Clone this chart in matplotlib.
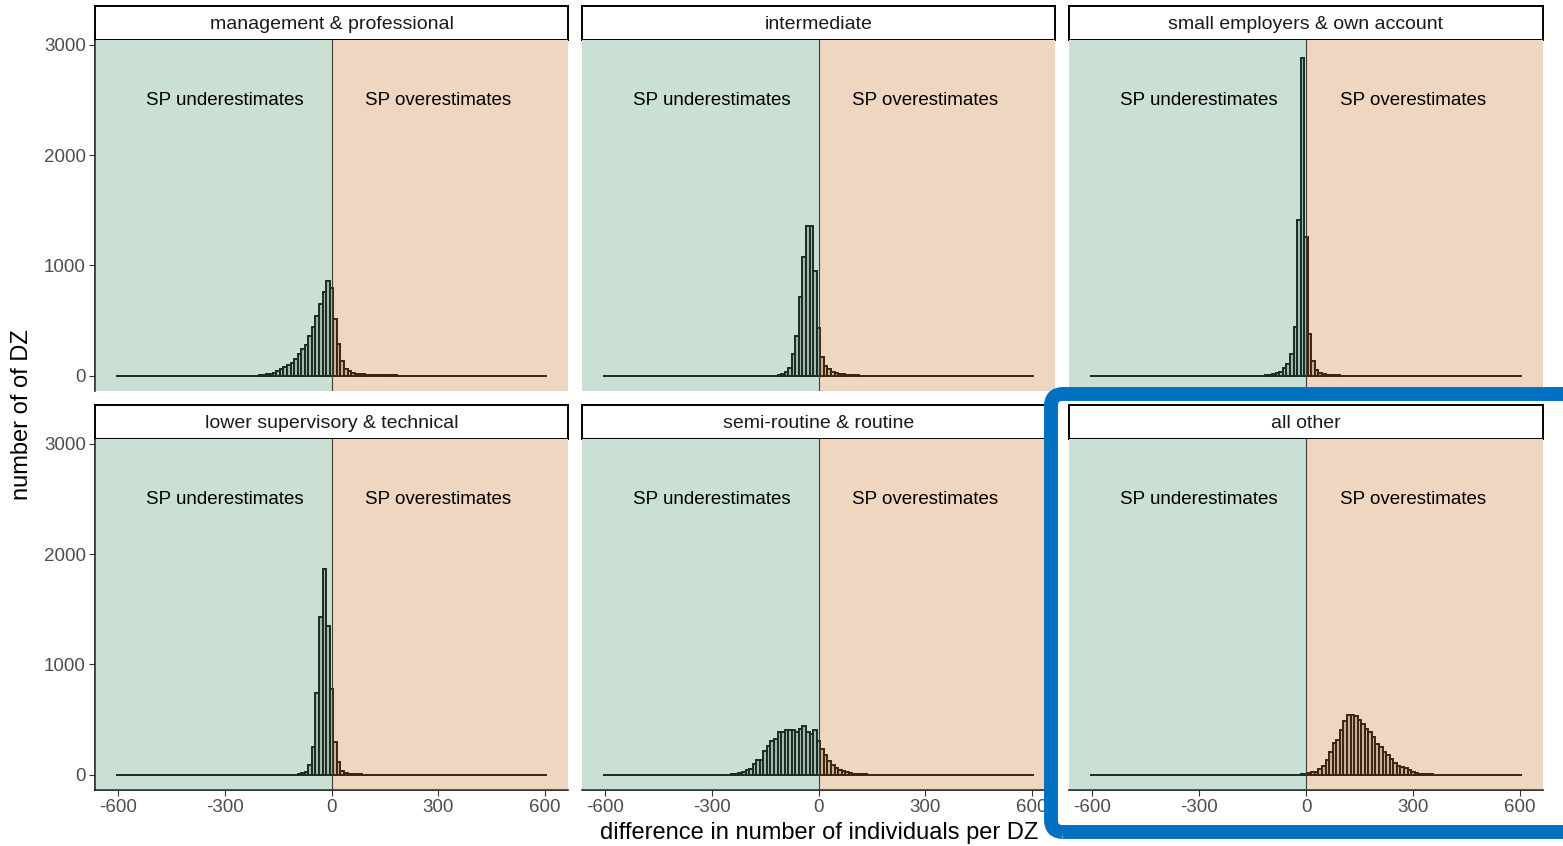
import numpy as np
import matplotlib
matplotlib.use('Agg')
import matplotlib.pyplot as plt
from matplotlib.patches import FancyBboxPatch
from matplotlib.transforms import IdentityTransform

plt.rcParams['font.family'] = ['Liberation Sans', 'DejaVu Sans']

W, H, DPI = 1563, 846, 100

# histogram bins: width 10, centred on multiples of 10
bin_width = 10
bin_lo, bin_hi = -600, 600

panel_titles = ['management & professional', 'intermediate',
                'small employers & own account', 'lower supervisory & technical',
                'semi-routine & routine', 'all other']

# counts per bin, starting at the given bin centre (all other bins are ~0)
mgmt_start = -200
mgmt_counts = [5, 8, 12, 18, 24, 45, 60, 75, 97, 112, 148, 196, 242, 281, 359,
               438, 544, 649, 755, 861, 791, 513, 287, 136, 60, 45, 24, 15, 12,
               10, 8, 6, 5, 5, 4, 3, 3, 2, 2]

inter_start = -110
inter_counts = [8, 15, 30, 69, 196, 362, 710, 1072, 1359, 1353, 945, 432, 172,
                91, 60, 36, 24, 15, 10, 6, 4, 3, 2]

small_start = -110
small_counts = [5, 8, 12, 21, 30, 66, 106, 196, 438, 1410, 2884, 1253, 378, 136,
                51, 21, 10, 6, 4, 3, 2]

lower_start = -90
lower_counts = [5, 10, 27, 88, 248, 739, 1430, 1863, 1348, 779, 300, 118, 36, 18,
                8, 5, 3, 2]

semi_start = -240
semi_counts = [4, 6, 15, 27, 42, 52, 97, 136, 136, 218, 258, 309, 324, 385, 385,
               400, 400, 400, 385, 409, 439, 390, 370, 400, 303, 233, 179, 127,
               88, 58, 42, 30, 21, 12, 6, 4, 3, 2]

other_start = -10
other_counts = [3, 6, 12, 21, 27, 52, 82, 133, 209, 288, 318, 400, 482, 542, 542,
                530, 491, 461, 415, 385, 339, 273, 248, 203, 179, 142, 106, 82,
                73, 61, 42, 21, 12, 6, 4, 3, 2]

panel_data = [(mgmt_start, mgmt_counts), (inter_start, inter_counts),
              (small_start, small_counts), (lower_start, lower_counts),
              (semi_start, semi_counts), (other_start, other_counts)]

y_ticks = [0, 1000, 2000, 3000]
x_ticks = [-600, -300, 0, 300, 600]

green = '#529B76'
orange = '#CA7A34'
shade_alpha = 0.3


def px_box(x0, y0, x1, y1):
    # pixel box (top-left origin) -> figure fraction rect
    return [x0 / W, 1 - y1 / H, (x1 - x0) / W, (y1 - y0) / H]


def full_counts(start, seg):
    centers = np.arange(bin_lo, bin_hi + 1, bin_width)
    counts = np.zeros(len(centers))
    i = (start - bin_lo) // bin_width
    counts[i:i + len(seg)] = seg
    return centers, counts


fig = plt.figure(figsize=(W / DPI, H / DPI), dpi=DPI)

cols = [(95, 568), (582, 1055), (1069, 1543)]
rows = [(40, 391), (439, 790)]
strips = [(6, 40), (405, 439)]
xlim = (-665, 665)
ylim = (-140, 3045)

for k, title in enumerate(panel_titles):
    r, c = divmod(k, 3)
    x0, x1 = cols[c]
    y0, y1 = rows[r]

    # strip
    sax = fig.add_axes(px_box(x0, strips[r][0], x1, strips[r][1]))
    sax.set_xticks([])
    sax.set_yticks([])
    sax.set_facecolor('white')
    for sp in sax.spines.values():
        sp.set_linewidth(1.4)
        sp.set_color('black')
    sax.text(0.5, 0.47, title, ha='center', va='center', fontsize=14,
             color='#1a1a1a', transform=sax.transAxes)

    ax = fig.add_axes(px_box(x0, y0, x1, y1))
    ax.set_facecolor('white')
    centers, counts = full_counts(*panel_data[k])
    ax.bar(centers, counts, width=bin_width, facecolor='#c8c8c8',
           edgecolor='black', linewidth=1.4, zorder=2)
    ax.axvspan(xlim[0], 0, color=green, alpha=shade_alpha, lw=0, zorder=3)
    ax.axvspan(0, xlim[1], color=orange, alpha=shade_alpha, lw=0, zorder=3)
    ax.axvline(0, color='#3c3c3c', lw=0.8, zorder=4)
    ax.text(-300, 2500, 'SP underestimates', ha='center', va='center',
            fontsize=13.5, color='black', zorder=5)
    ax.text(300, 2500, 'SP overestimates', ha='center', va='center',
            fontsize=13.5, color='black', zorder=5)
    ax.set_xlim(*xlim)
    ax.set_ylim(*ylim)

    for side in ['top', 'right', 'left', 'bottom']:
        ax.spines[side].set_visible(False)
    ax.tick_params(length=4, width=0.8, color='#333333', labelcolor='#4d4d4d',
                   labelsize=13.5, pad=2.5)
    if c == 0:
        ax.spines['left'].set_visible(True)
        ax.spines['left'].set_linewidth(1.1)
        ax.set_yticks(y_ticks)
    else:
        ax.set_yticks([])
    if r == 1:
        ax.spines['bottom'].set_visible(True)
        ax.spines['bottom'].set_linewidth(1.1)
        ax.set_xticks(x_ticks)
        ax.set_xticklabels([str(v) for v in x_ticks])
    else:
        ax.set_xticks([])

fig.text(22 / W, 1 - 415 / H, 'number of of DZ', rotation=90, ha='center',
         va='center', fontsize=17, color='black')
fig.text(819 / W, 1 - 833 / H, 'difference in number of individuals per DZ',
         ha='center', va='center', fontsize=17, color='black')

# highlight box around the "all other" panel
box = FancyBboxPatch((1051, H - 832), 540, 438,
                     boxstyle='round,pad=0,rounding_size=12',
                     transform=IdentityTransform(), fill=False,
                     edgecolor='#0070C0', linewidth=10, clip_on=False, zorder=10)
fig.add_artist(box)

fig.savefig('out.png', dpi=DPI)
